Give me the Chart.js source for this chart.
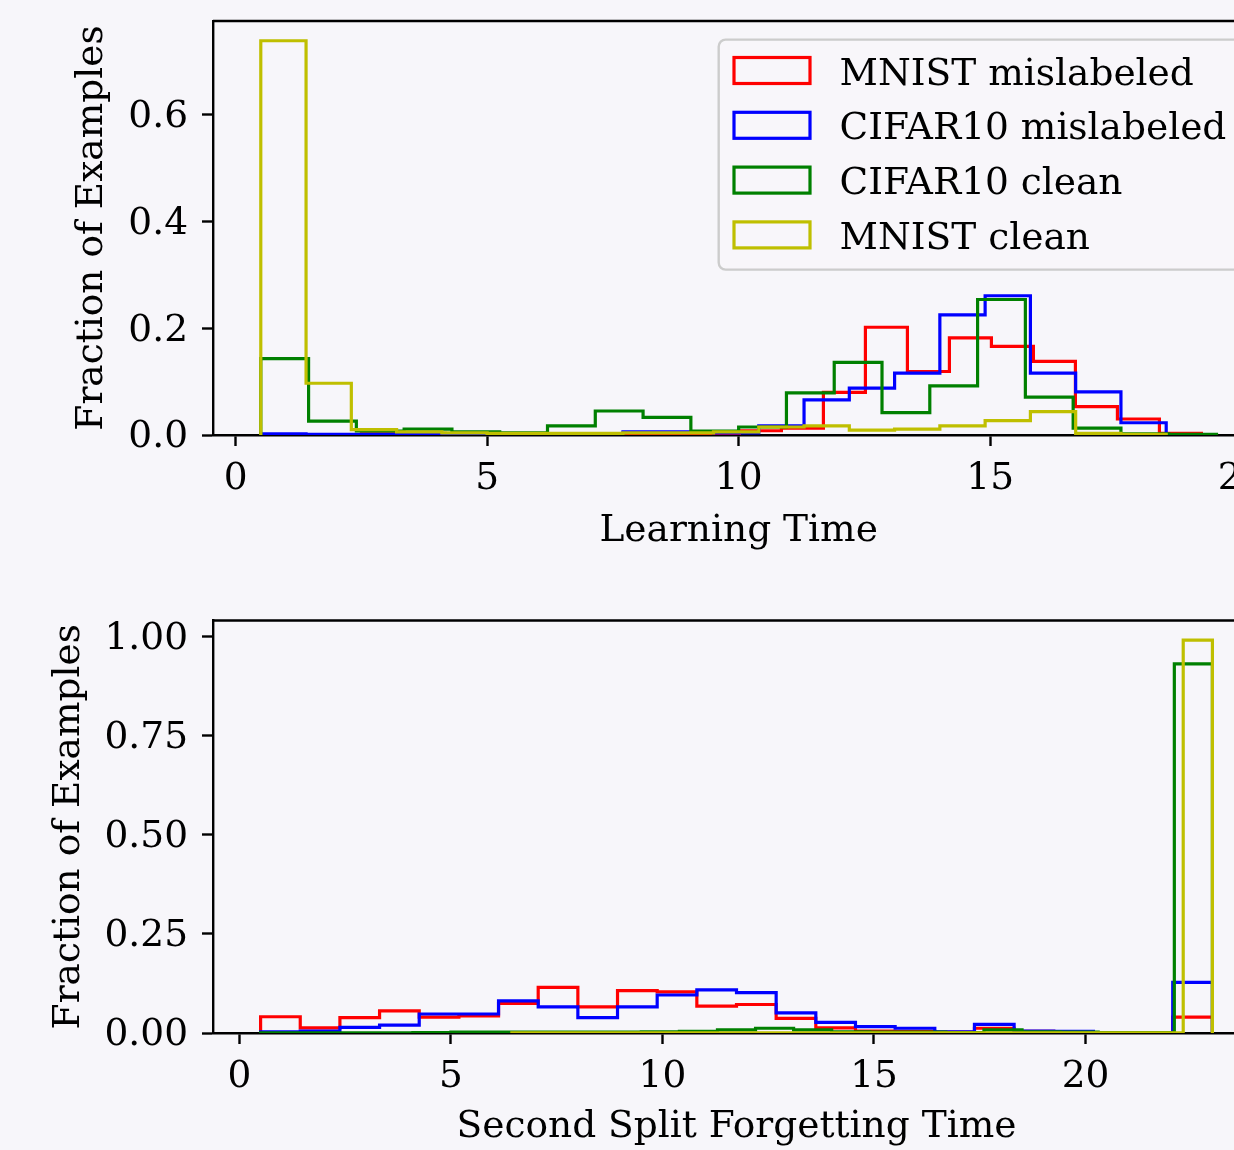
<!DOCTYPE html>
<html>
<head>
<meta charset="utf-8">
<script src="https://cdn.jsdelivr.net/npm/chart.js@4.4.1/dist/chart.umd.min.js"></script>
<style>
  html, body { margin: 0; padding: 0; overflow: hidden; background: #f7f6fa; width: 1234px; height: 1150px; }
  canvas { position: absolute; left: 0; }
  #top { top: 0; width: 1300px; height: 560px; }
  #bottom { top: 560px; width: 1300px; height: 590px; }
</style>
</head>
<body>
<canvas id="top" width="1300" height="560"></canvas>
<canvas id="bottom" width="1300" height="590"></canvas>
<script>
const labels = ['MNIST mislabeled', 'CIFAR10 mislabeled', 'CIFAR10 clean', 'MNIST clean'];
const colors = ['#ff0000', '#0000ff', '#008000', '#bfbf00'];

// bin ranges [first edge, last edge] and bar heights
const learnRanges = [[2.5, 19.2], [0.5, 18.5], [0.5, 19.5], [0.5, 18.5]];
const learnMnistMis = [0.002, 0.003, 0.002, 0.001, 0.001, 0.002, 0.002, 0.003, 0.003, 0.008,
  0.013, 0.080, 0.202, 0.119, 0.182, 0.166, 0.138, 0.053, 0.030, 0.003];
const learnCifarMis = [0.002, 0.001, 0.001, 0.001, 0.001, 0.001, 0.001, 0.001, 0.006, 0.006,
  0.004, 0.017, 0.066, 0.088, 0.116, 0.225, 0.261, 0.116, 0.081, 0.023];
const learnCifarClean = [0.143, 0.026, 0.0075, 0.011, 0.006, 0.004, 0.017, 0.045, 0.033, 0.0075,
  0.015, 0.079, 0.136, 0.042, 0.092, 0.254, 0.071, 0.013, 0.002, 0.001];
const learnMnistClean = [0.739, 0.097, 0.010, 0.006, 0.004, 0.003, 0.003, 0.003, 0.004, 0.004,
  0.006, 0.015, 0.017, 0.009, 0.011, 0.017, 0.027, 0.044, 0.003, 0.001];

const forgetRanges = [[0.5, 23], [0.5, 23], [0.5, 23], [6.44, 23]];
const forgetMnistMis = [0.041, 0.013, 0.039, 0.056, 0.040, 0.043, 0.075, 0.115, 0.066, 0.107,
  0.104, 0.068, 0.072, 0.037, 0.013, 0.005, 0.004, 0.002, 0.012, 0.004, 0.003, 0.001, 0.001, 0.040];
const forgetCifarMis = [0.003, 0.005, 0.014, 0.020, 0.048, 0.048, 0.081, 0.066, 0.039, 0.066,
  0.096, 0.109, 0.102, 0.051, 0.027, 0.016, 0.012, 0.003, 0.022, 0.005, 0.004, 0.001, 0.001, 0.128];
const forgetCifarClean = [0.0005, 0.0005, 0.0005, 0.0005, 0.001, 0.002, 0.002, 0.002, 0.002, 0.002,
  0.003, 0.004, 0.008, 0.012, 0.008, 0.003, 0.002, 0.002, 0.001, 0.008, 0.003, 0.002, 0.001, 0.001, 0.932];
const forgetMnistClean = [0.0003, 0.0003, 0.0003, 0.0003, 0.0003, 0.0003, 0.0003, 0.0003, 0.0003, 0.0003,
  0.0003, 0.0003, 0.0003, 0.0003, 0.0003, 0.0003, 0.0003, 0.0003, 0.0003, 0.0003, 0.0003, 0.0003, 0.0003, 0.992];

const learnXTicks = [0, 5, 10, 15, 20];
const learnYTicks = [0, 0.2, 0.4, 0.6];
const forgetXTicks = [0, 5, 10, 15, 20];
const forgetYTicks = [0, 0.25, 0.5, 0.75, 1.0];

const FONT = { family: 'DejaVu Serif', size: 37.5 };
const INK = '#000';

// outline of a step histogram: edges from the bin range, one point per bin
function outline(range, heights) {
  const [lo, hi] = range;
  const w = (hi - lo) / heights.length;
  const pts = [{ x: lo, y: 0 }];
  heights.forEach((h, i) => pts.push({ x: lo + i * w, y: h }));
  pts.push({ x: hi, y: 0 });
  return pts;
}

function makeDatasets(ranges, series) {
  return series.map((s, i) => ({
    label: labels[i],
    data: outline(ranges[i], s),
    borderColor: colors[i],
    borderWidth: 3.2,
    stepped: true,
    pointRadius: 0,
    fill: false,
    order: 4 - i,
  }));
}

const framePlugin = {
  id: 'frame',
  afterDraw(chart) {
    const { ctx, chartArea: a } = chart;
    ctx.save();
    ctx.strokeStyle = INK;
    ctx.lineWidth = 2.4;
    ctx.beginPath();
    ctx.moveTo(a.left, a.top);
    ctx.lineTo(a.right, a.top);
    ctx.lineTo(a.right, a.bottom);
    ctx.stroke();
    ctx.restore();
  },
};

const legendPlugin = {
  id: 'boxLegend',
  afterDraw(chart) {
    const { ctx, chartArea: a } = chart;
    const right = a.right - 18.4;
    const top = a.top + 18.6;
    const left = 718.7;
    const height = 230;
    ctx.save();
    ctx.beginPath();
    ctx.roundRect(left, top, right - left, height, 7);
    ctx.fillStyle = 'rgba(247,246,250,0.8)';
    ctx.fill();
    ctx.strokeStyle = '#cccccc';
    ctx.lineWidth = 2.4;
    ctx.stroke();
    ctx.font = `${FONT.size}px ${FONT.family}`;
    ctx.textBaseline = 'alphabetic';
    ctx.fillStyle = INK;
    chart.data.datasets.forEach((ds, i) => {
      const cy = 70.5 + i * 54.8;
      ctx.strokeStyle = ds.borderColor;
      ctx.lineWidth = 3.2;
      ctx.strokeRect(734, cy - 13, 76, 26);
      ctx.fillText(ds.label, 839.6, cy + 14);
    });
    ctx.restore();
  },
};

function axisStyle() {
  return {
    grid: { drawOnChartArea: false, drawTicks: true, tickLength: 11, tickWidth: 2.4, tickColor: INK },
    border: { display: true, color: INK, width: 2.4 },
  };
}

function makeChart(id, cfg) {
  return new Chart(document.getElementById(id), {
    type: 'line',
    data: { datasets: cfg.datasets },
    plugins: cfg.plugins,
    options: {
      responsive: false,
      animation: false,
      events: [],
      layout: { padding: cfg.padding },
      plugins: { legend: { display: false }, tooltip: { enabled: false } },
      scales: {
        x: {
          type: 'linear',
          min: cfg.xMin,
          max: cfg.xMax,
          afterBuildTicks: s => { s.ticks = cfg.xTicks.map(v => ({ value: v })); },
          afterFit: s => { s.height = cfg.xHeight; s.paddingLeft = 0; s.paddingRight = 0; },
          ...axisStyle(),
          ticks: { color: INK, font: FONT, padding: 11, maxRotation: 0, autoSkip: false, callback: v => String(v) },
          title: { display: true, text: cfg.xTitle, color: INK, font: FONT, padding: { top: 0, bottom: cfg.xTitlePad } },
        },
        y: {
          type: 'linear',
          min: 0,
          max: cfg.yMax,
          afterBuildTicks: s => { s.ticks = cfg.yTicks.map(v => ({ value: v })); },
          afterFit: s => { s.width = 213; s.paddingTop = 0; s.paddingBottom = 0; },
          ...axisStyle(),
          ticks: { color: INK, font: FONT, padding: 14, labelOffset: 2.5, autoSkip: false, callback: v => v.toFixed(cfg.yDigits) },
          title: { display: true, text: 'Fraction of Examples', color: INK, font: FONT, padding: { top: cfg.yTitlePad, bottom: 0 } },
        },
      },
    },
  });
}

makeChart('top', {
  datasets: makeDatasets(learnRanges, [learnMnistMis, learnCifarMis, learnCifarClean, learnMnistClean]),
  plugins: [framePlugin, legendPlugin],
  padding: { top: 21, right: 35.7, left: 0, bottom: 0 },
  xMin: -0.45, xMax: 20.45, xTicks: learnXTicks, xHeight: 125,
  xTitle: 'Learning Time', xTitlePad: 6,
  yMax: 0.776, yTicks: learnYTicks, yDigits: 1, yTitlePad: 70,
});

makeChart('bottom', {
  datasets: makeDatasets(forgetRanges, [forgetMnistMis, forgetCifarMis, forgetCifarClean, forgetMnistClean]),
  plugins: [framePlugin],
  padding: { top: 60.5, right: 40, left: 0, bottom: 0 },
  xMin: -0.625, xMax: 24.125, xTicks: forgetXTicks, xHeight: 117,
  xTitle: 'Second Split Forgetting Time', xTitlePad: 0,
  yMax: 1.0416, yTicks: forgetYTicks, yDigits: 2, yTitlePad: 47,
});
</script>
</body>
</html>
